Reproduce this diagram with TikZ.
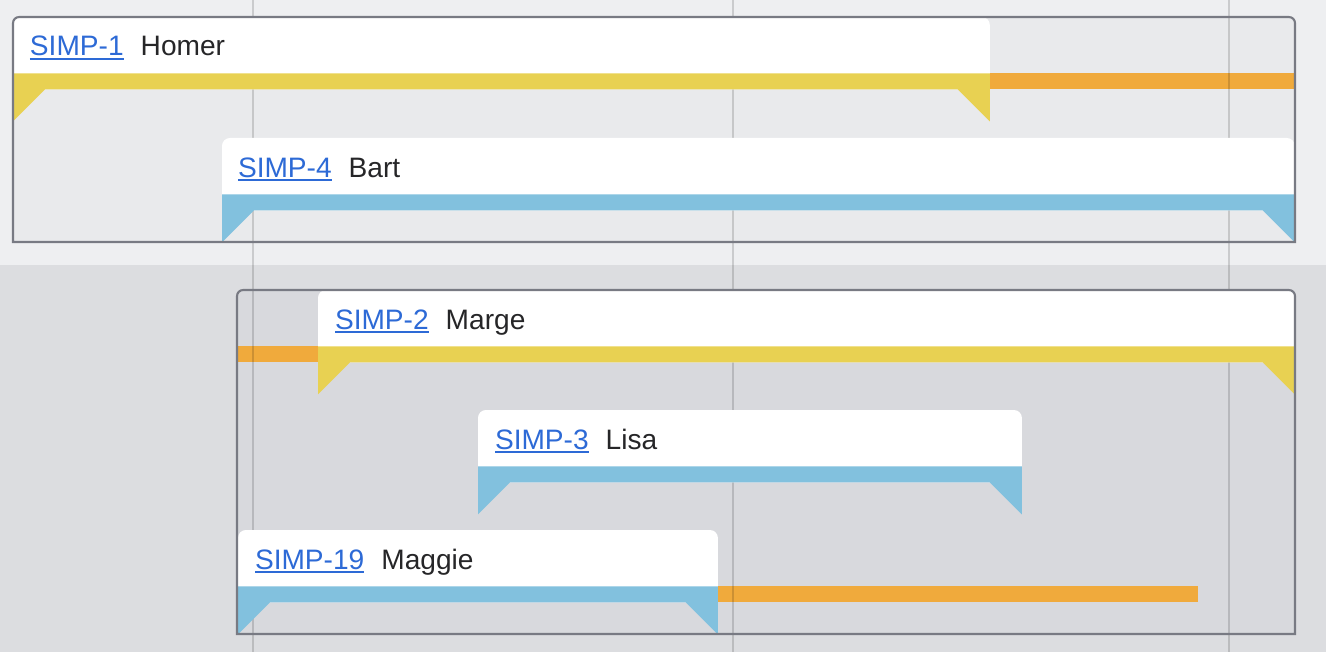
\documentclass[tikz,border=0pt]{standalone}
\usepackage{fontspec}
\setmainfont{Liberation Sans}
\usepackage{tikz}
\usepackage{xcolor}
\usetikzlibrary{positioning,calc,backgrounds}
\definecolor{bandtop}{RGB}{238,239,241}
\definecolor{bandlow}{RGB}{220,221,224}
\definecolor{boxtop}{RGB}{233,234,236}
\definecolor{boxlow}{RGB}{216,217,221}
\definecolor{framegray}{RGB}{120,122,131}
\definecolor{ribbonyellow}{RGB}{232,209,82}
\definecolor{ribbonblue}{RGB}{130,193,222}
\definecolor{lateorange}{RGB}{240,170,60}
\definecolor{linkblue}{RGB}{45,106,214}
\definecolor{textdark}{RGB}{38,38,40}
\newcommand{\cardfont}{\fontsize{16pt}{19pt}\selectfont}
\newcommand{\ticket}[1]{\setbox0\hbox{#1}\rlap{\raisebox{-2.1pt}{\rule{\wd0}{1.1pt}}}\box0}

\begin{document}
\begin{tikzpicture}[
    x=0.02cm, y=-0.02cm,
    card/.style={fill=white, rounded corners=4.5pt, inner sep=0pt, outer sep=0pt, anchor=north west, minimum height=1.45cm},
    key/.style={inner sep=0pt, outer sep=0pt, anchor=base west, font=\cardfont, text=linkblue},
    who/.style={inner sep=0pt, outer sep=0pt, font=\cardfont, text=textdark},
    frame/.style={draw=framegray, line width=1.2pt},
    gridline/.style={draw=black, opacity=0.15, line width=1.1pt},
    late/.style={fill=lateorange}
]
\useasboundingbox (0,0) rectangle (1326,652);

\node[card, minimum width=19.54cm] (homer) at (13,17) {};
\node[card, minimum width=21.46cm] (bart) at (222,138) {};
\node[card, minimum width=19.54cm] (marge) at (318,290) {};
\node[card, minimum width=10.88cm] (lisa) at (478,410) {};
\node[card, minimum width=9.6cm] (maggie) at (238,530) {};

% ribbons under the cards
\foreach \card/\col in {homer/ribbonyellow, bart/ribbonblue, marge/ribbonyellow, lisa/ribbonblue, maggie/ribbonblue}
  \fill[\col] (\card.south west) -- ++(0,-16) -| (\card.south east) -- ++(0,32) -- ++(-32,-32)
    -- ($(\card.south west)+(32,0)$) -- ++(-32,32) -- cycle;

\node[key] (homerkey) at ($(homer.north west)+(17,39)$) {\ticket{SIMP-1}};
\node[who, base right=0.34cm of homerkey] (homername) {Homer};
\node[key] (bartkey) at ($(bart.north west)+(16,39)$) {\ticket{SIMP-4}};
\node[who, base right=0.34cm of bartkey] (bartname) {Bart};
\node[key] (margekey) at ($(marge.north west)+(17,39)$) {\ticket{SIMP-2}};
\node[who, base right=0.34cm of margekey] (margename) {Marge};
\node[key] (lisakey) at ($(lisa.north west)+(17,39)$) {\ticket{SIMP-3}};
\node[who, base right=0.34cm of lisakey] (lisaname) {Lisa};
\node[key] (maggiekey) at ($(maggie.north west)+(17,39)$) {\ticket{SIMP-19}};
\node[who, base right=0.34cm of maggiekey] (maggiename) {Maggie};

% group frames
\draw[frame] (600,242) -- (13,242) -- (13,100) [rounded corners=3.5pt] -- (13,17) -- (1295,17) -- (1295,100) [sharp corners] -- (1295,242) -- cycle;
\draw[frame] (700,634) -- (237,634) -- (237,400) [rounded corners=3.5pt] -- (237,290) -- (1295,290) -- (1295,400) [sharp corners] -- (1295,634) -- cycle;

\begin{scope}[on background layer]
  \fill[bandtop] (0,0) rectangle (1326,265);
  \fill[bandlow] (0,265) rectangle (1326,652);
  \fill[boxtop] (600,242) -- (13,242) -- (13,100) [rounded corners=3.5pt] -- (13,17) -- (1295,17) -- (1295,100) [sharp corners] -- (1295,242) -- cycle;
  \fill[boxlow] (700,634) -- (237,634) -- (237,400) [rounded corners=3.5pt] -- (237,290) -- (1295,290) -- (1295,400) [sharp corners] -- (1295,634) -- cycle;
  \fill[late] (homer.south east) rectangle ++(305,-16);
  \fill[late] (marge.south west) rectangle ++(-81,-16);
  \fill[late] (maggie.south east) rectangle ++(480,-16);
  \foreach \gx in {253,733,1229}
    \draw[gridline] (\gx,0) -- (\gx,652);
\end{scope}
\end{tikzpicture}
\end{document}
